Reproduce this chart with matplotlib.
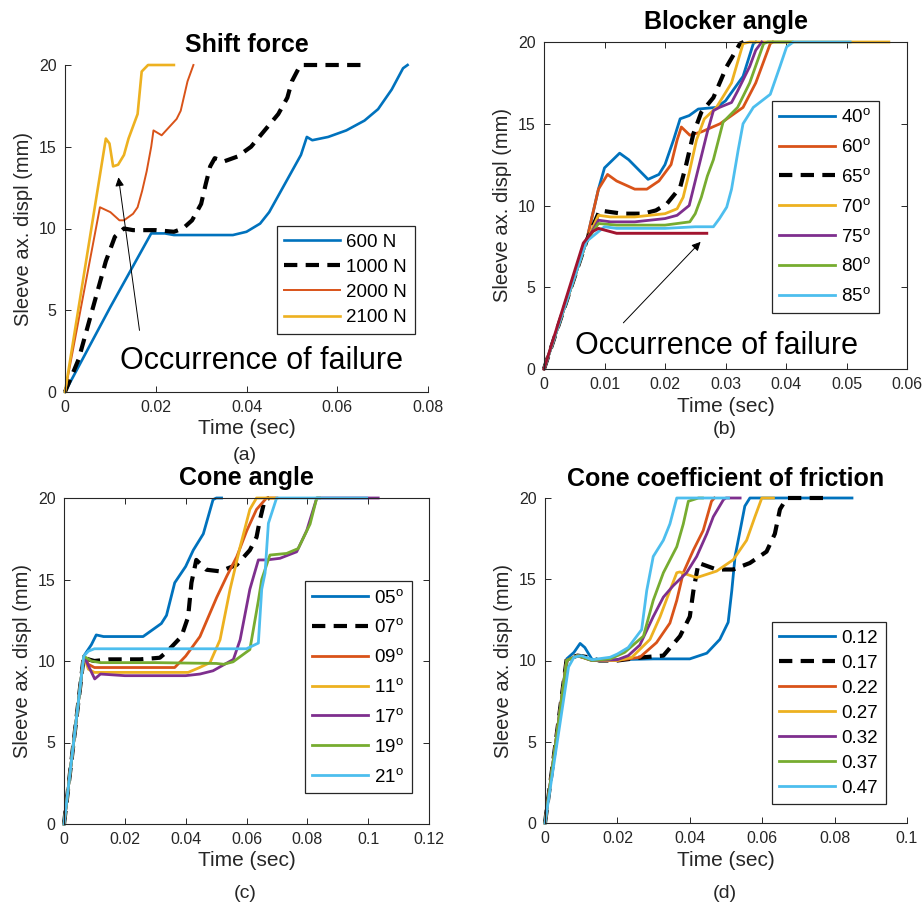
import matplotlib
matplotlib.use("Agg")
import matplotlib.pyplot as plt
import numpy as np

plt.rcParams['font.family'] = ['Liberation Sans', 'DejaVu Sans']
plt.rcParams['mathtext.default'] = 'regular'

# MATLAB default line colours
BLUE = '#0072BD'
ORANGE = '#D95319'
YELLOW = '#EDB120'
PURPLE = '#7E2F8E'
GREEN = '#77AC30'
CYAN = '#4DBEEE'
CRIMSON = '#A2142F'
GREY = '#262626'

######################
# (a) Shift force
######################
force_labels = ['600 N', '1000 N', '2000 N', '2100 N']
f600_t = [0, 0.005, 0.010, 0.015, 0.019, 0.022, 0.024, 0.030, 0.037, 0.040, 0.043, 0.045, 0.048,
          0.052, 0.0533, 0.0545, 0.058, 0.062, 0.066, 0.069, 0.072, 0.0745, 0.0755]
f600_y = [0, 2.6, 5.2, 7.7, 9.7, 9.7, 9.6, 9.6, 9.6, 9.8, 10.3, 11.0, 12.5,
          14.5, 15.6, 15.4, 15.6, 16.0, 16.6, 17.3, 18.5, 19.8, 20]
f1000_t = [0, 0.003, 0.006, 0.009, 0.011, 0.013, 0.015, 0.020, 0.024, 0.026, 0.028, 0.030, 0.031,
           0.032, 0.033, 0.035, 0.038, 0.041, 0.044, 0.047, 0.049, 0.050, 0.0515, 0.052, 0.066]
f1000_y = [0, 2.0, 5.0, 8.0, 9.5, 10.0, 9.9, 9.9, 9.8, 10.0, 10.5, 11.5, 12.7,
           13.8, 14.3, 14.1, 14.4, 15.0, 16.0, 17.0, 18.0, 19.0, 19.8, 20, 20]
f2000_t = [0, 0.0077, 0.010, 0.012, 0.013, 0.015, 0.016, 0.017, 0.018, 0.019, 0.0195, 0.0213,
           0.0246, 0.0255, 0.027, 0.0283]
f2000_y = [0, 11.3, 11.0, 10.5, 10.5, 10.9, 11.3, 12.3, 13.5, 15.0, 16.0, 15.7,
           16.7, 17.2, 19.0, 20]
f2100_t = [0, 0.009, 0.0098, 0.0106, 0.0117, 0.013, 0.014, 0.016, 0.0169, 0.0183, 0.024]
f2100_y = [0, 15.5, 15.2, 13.8, 13.9, 14.5, 15.5, 17.0, 19.6, 20, 20]

######################
# (b) Blocker angle
######################
blocker_labels = ['$40^o$', '$60^o$', '$65^o$', '$70^o$', '$75^o$', '$80^o$', '$85^o$']
b40_t = [0, 0.007, 0.009, 0.010, 0.0125, 0.014, 0.0172, 0.019, 0.020, 0.0214, 0.0225, 0.024,
         0.0255, 0.0285, 0.030, 0.0329, 0.0346, 0.035]
b40_y = [0, 7.8, 11.0, 12.3, 13.2, 12.8, 11.6, 11.9, 12.5, 14.0, 15.3, 15.5,
         15.9, 16.0, 16.4, 17.9, 19.9, 20]
b60_t = [0, 0.007, 0.009, 0.0105, 0.012, 0.015, 0.017, 0.019, 0.021, 0.022, 0.0227, 0.0241,
         0.026, 0.0291, 0.0329, 0.035, 0.0374, 0.0378]
b60_y = [0, 7.8, 11.0, 11.9, 11.5, 11.0, 11.0, 11.5, 12.5, 14.0, 14.8, 14.3,
         14.5, 15.0, 16.0, 17.5, 19.9, 20]
b65_t = [0, 0.007, 0.0092, 0.011, 0.013, 0.0164, 0.0185, 0.0203, 0.0225, 0.0235, 0.0247, 0.026,
         0.028, 0.0302, 0.0324, 0.033]
b65_y = [0, 7.8, 9.7, 9.6, 9.5, 9.5, 9.7, 10.1, 11.1, 12.5, 14.4, 15.7,
         16.6, 18.5, 19.9, 20]
b70_t = [0, 0.007, 0.009, 0.011, 0.015, 0.020, 0.022, 0.023, 0.024, 0.0252, 0.0265, 0.0285,
         0.031, 0.0329, 0.034, 0.057]
b70_y = [0, 7.8, 9.4, 9.3, 9.3, 9.5, 9.8, 10.5, 12.0, 14.0, 15.3, 16.0,
         17.5, 19.9, 20, 20]
b75_t = [0, 0.007, 0.009, 0.011, 0.015, 0.020, 0.022, 0.024, 0.025, 0.026, 0.027, 0.028,
         0.029, 0.031, 0.032, 0.034, 0.035, 0.036]
b75_y = [0, 7.8, 9.1, 9.0, 9.0, 9.2, 9.4, 10.0, 11.5, 13.0, 14.5, 15.8,
         16.0, 16.3, 17.0, 18.5, 19.5, 20]
b80_t = [0, 0.007, 0.009, 0.012, 0.020, 0.0241, 0.025, 0.026, 0.027, 0.028, 0.0296, 0.032,
         0.034, 0.0363, 0.037, 0.041]
b80_y = [0, 7.8, 8.9, 8.8, 8.8, 9.0, 9.5, 10.5, 11.8, 12.8, 15.1, 16.0,
         17.5, 19.9, 20, 20]
b85_t = [0, 0.007, 0.010, 0.012, 0.020, 0.025, 0.028, 0.029, 0.0302, 0.031, 0.0321, 0.0329,
         0.0346, 0.0374, 0.039, 0.0401, 0.0412, 0.0506]
b85_y = [0, 7.8, 8.7, 8.6, 8.6, 8.7, 8.7, 9.2, 9.9, 11.0, 13.4, 15.0,
         16.0, 16.8, 18.5, 19.7, 20, 20]
bfail_t = [0, 0.0065, 0.008, 0.009, 0.010, 0.012, 0.0269]
bfail_y = [0, 7.7, 8.4, 8.6, 8.5, 8.3, 8.3]

######################
# (c) Cone angle
######################
cone_labels = ['$05^o$', '$07^o$', '$09^o$', '$11^o$', '$17^o$', '$19^o$', '$21^o$']
c05_t = [0, 0.0065, 0.009, 0.0106, 0.013, 0.026, 0.029, 0.032, 0.0337, 0.0364, 0.040, 0.0425,
         0.0458, 0.049, 0.0501, 0.0518]
c05_y = [0, 10.3, 11.0, 11.6, 11.5, 11.5, 11.9, 12.3, 12.8, 14.8, 15.8, 16.8,
         17.8, 19.9, 20, 20]
c07_t = [0, 0.0065, 0.008, 0.010, 0.015, 0.025, 0.0315, 0.034, 0.0386, 0.0408, 0.0419, 0.0435,
         0.0468, 0.0513, 0.0568, 0.0611, 0.0633, 0.0644, 0.066, 0.0675]
c07_y = [0, 10.3, 10.1, 10.0, 10.1, 10.1, 10.2, 10.6, 11.5, 12.7, 14.8, 16.2,
         15.6, 15.5, 15.9, 16.8, 17.6, 18.65, 19.9, 20]
c09_t = [0, 0.0065, 0.008, 0.010, 0.015, 0.030, 0.0364, 0.040, 0.0447, 0.0502, 0.0535, 0.0568,
         0.0601, 0.0633, 0.0666, 0.070]
c09_y = [0, 10.3, 9.8, 9.6, 9.6, 9.6, 9.6, 10.3, 11.5, 13.9, 15.2, 16.4,
         18.0, 19.3, 20, 20]
c11_t = [0, 0.0065, 0.008, 0.010, 0.015, 0.0408, 0.0446, 0.048, 0.0513, 0.0546, 0.0579, 0.0611,
         0.0633, 0.0693]
c11_y = [0, 10.3, 9.5, 9.3, 9.3, 9.3, 9.6, 9.9, 11.3, 14.4, 17.0, 19.3,
         20, 20]
c17_t = [0, 0.0065, 0.0101, 0.012, 0.020, 0.040, 0.0447, 0.049, 0.0557, 0.0579, 0.0611, 0.0639,
         0.0666, 0.071, 0.0765, 0.0798, 0.0831, 0.1033]
c17_y = [0, 10.3, 8.9, 9.2, 9.1, 9.1, 9.2, 9.4, 10.1, 11.3, 14.4, 16.2,
         16.2, 16.3, 16.7, 18.0, 20, 20]
c19_t = [0, 0.0065, 0.009, 0.012, 0.030, 0.0501, 0.0525, 0.0556, 0.0611, 0.0639, 0.065, 0.0677,
         0.0732, 0.077, 0.0809, 0.0831, 0.084]
c19_y = [0, 10.3, 10.0, 9.9, 9.9, 9.85, 9.8, 9.95, 10.7, 13.7, 15.0, 16.5,
         16.6, 16.9, 18.4, 20, 20]
c21_t = [0, 0.0065, 0.008, 0.010, 0.020, 0.060, 0.0639, 0.065, 0.0661, 0.0672, 0.0699, 0.0995]
c21_y = [0, 10.3, 10.6, 10.75, 10.75, 10.75, 11.1, 14.4, 15.4, 18.45, 20, 20]

######################
# (d) Cone friction
######################
mu_labels = ['0.12', '0.17', '0.22', '0.27', '0.32', '0.37', '0.47']
m12_t = [0, 0.006, 0.008, 0.0097, 0.011, 0.0129, 0.014, 0.020, 0.030, 0.040, 0.0447, 0.0483,
         0.0506, 0.0516, 0.0525, 0.0539, 0.0552, 0.0566, 0.0848]
m12_y = [0, 10.1, 10.5, 11.05, 10.8, 10.1, 10.0, 10.05, 10.1, 10.1, 10.45, 11.3,
         12.35, 14.3, 16.4, 18.0, 19.5, 20, 20]
m17_t = [0, 0.006, 0.009, 0.012, 0.015, 0.020, 0.0272, 0.0327, 0.0373, 0.040, 0.041, 0.0424,
         0.0437, 0.0474, 0.052, 0.0566, 0.0612, 0.0635, 0.0649, 0.0668, 0.0788]
m17_y = [0, 10.1, 10.3, 10.2, 10.0, 10.0, 10.2, 10.3, 11.5, 12.7, 14.3, 16.0,
         15.9, 15.6, 15.6, 16.0, 16.7, 17.8, 19.3, 20, 20]
m22_t = [0, 0.006, 0.009, 0.013, 0.020, 0.0262, 0.0308, 0.0345, 0.0364, 0.0382, 0.041, 0.0437,
         0.046, 0.0468]
m22_y = [0, 10.0, 10.3, 10.0, 10.0, 10.2, 11.1, 12.3, 13.7, 15.4, 16.8, 18.0,
         19.8, 20]
m27_t = [0, 0.006, 0.009, 0.013, 0.020, 0.024, 0.029, 0.0318, 0.0345, 0.0364, 0.0372, 0.0419,
         0.0474, 0.052, 0.0557, 0.058, 0.0599, 0.0631]
m27_y = [0, 10.0, 10.3, 10.0, 10.0, 10.2, 11.3, 12.7, 14.3, 15.4, 15.45, 15.1,
         15.5, 16.2, 17.4, 18.85, 20, 20]
m32_t = [0, 0.006, 0.009, 0.013, 0.020, 0.023, 0.0262, 0.0299, 0.0327, 0.0354, 0.0391, 0.0419,
         0.0447, 0.0465, 0.0493, 0.050, 0.0539]
m32_y = [0, 10.0, 10.3, 10.0, 10.05, 10.3, 10.95, 12.7, 13.9, 14.6, 15.4, 16.4,
         17.8, 18.85, 19.9, 20, 20]
m37_t = [0, 0.006, 0.009, 0.013, 0.018, 0.022, 0.0272, 0.0299, 0.0327, 0.0364, 0.0382, 0.0396,
         0.0424, 0.0435]
m37_y = [0, 10.0, 10.3, 10.0, 10.1, 10.5, 11.5, 13.7, 15.4, 17.0, 18.4, 19.8,
         20, 20]
m47_t = [0, 0.0065, 0.008, 0.010, 0.013, 0.018, 0.020, 0.023, 0.0267, 0.0281, 0.0299, 0.0327,
         0.0345, 0.0364, 0.0507]
m47_y = [0, 9.6, 10.2, 10.3, 10.05, 10.2, 10.4, 10.8, 11.9, 14.3, 16.4, 17.4,
         18.4, 20, 20]


W, H = 923, 908


def make_axes(fig, left, right, top, bottom, xmax, xstep, box):
    ax = fig.add_axes([left / W, 1 - bottom / H, (right - left) / W, (bottom - top) / H])
    ax.set_xlim(0, xmax)
    ax.set_ylim(0, 20)
    ax.set_xticks(np.round(np.arange(0, xmax + xstep / 2, xstep), 3))
    ax.set_yticks([0, 5, 10, 15, 20])
    ax.xaxis.set_major_formatter(matplotlib.ticker.FormatStrFormatter('%g'))
    ax.yaxis.set_major_formatter(matplotlib.ticker.FormatStrFormatter('%g'))
    ax.tick_params(direction='in', length=4, width=0.7, colors=GREY, labelsize=11.5,
                   top=box, right=box, pad=6)
    for side in ['top', 'right']:
        ax.spines[side].set_visible(box)
    for sp in ax.spines.values():
        sp.set_color(GREY)
        sp.set_linewidth(0.8)
    ax.set_xlabel('Time (sec)', fontsize=15, color=GREY, labelpad=3)
    ax.set_ylabel('Sleeve ax. displ (mm)', fontsize=14.5, color=GREY, labelpad=4)
    return ax


def add_legend(ax, handles, labels, x, y, spacing):
    leg = ax.legend(handles, labels, loc='upper left', bbox_to_anchor=(x, y), borderaxespad=0,
                    fontsize=13.5, handlelength=2.95, handletextpad=0.35, labelspacing=spacing,
                    borderpad=0.4, fancybox=False, framealpha=1, edgecolor=GREY)
    leg.get_frame().set_linewidth(0.9)
    return leg


dash = (0, (3.2, 2.0))
LW = 2.0
fig = plt.figure(figsize=(W / 100, H / 100), dpi=100)

# (a)
ax = make_axes(fig, 65, 428, 65, 392, 0.08, 0.02, False)
h = []
h += ax.plot(f600_t, f600_y, color=BLUE, lw=1.9, clip_on=False)
h += ax.plot(f1000_t, f1000_y, color='k', lw=3.0, ls=dash, clip_on=False)
h += ax.plot(f2000_t, f2000_y, color=ORANGE, lw=1.4, clip_on=False)
h += ax.plot(f2100_t, f2100_y, color=YELLOW, lw=1.9, clip_on=False)
add_legend(ax, h, force_labels, 0.584, 0.508, 0.43)
ax.annotate('', xy=(0.0117, 13.3), xytext=(0.0165, 3.6),
            arrowprops=dict(arrowstyle='-|>', lw=0.7, color='k', mutation_scale=13))
ax.text(0.0121, 1.9, 'Occurrence of failure', fontsize=22, va='center', ha='left')
ax.set_title('Shift force', fontsize=18, fontweight='bold', pad=9)

# (b)
ax = make_axes(fig, 544, 907, 42, 369, 0.06, 0.01, True)
h = []
h += ax.plot(b40_t, b40_y, color=BLUE, lw=LW, clip_on=False)
h += ax.plot(b60_t, b60_y, color=ORANGE, lw=LW, clip_on=False)
h += ax.plot(b65_t, b65_y, color='k', lw=3.0, ls=dash, clip_on=False)
h += ax.plot(b70_t, b70_y, color=YELLOW, lw=LW, clip_on=False)
h += ax.plot(b75_t, b75_y, color=PURPLE, lw=LW, clip_on=False)
h += ax.plot(b80_t, b80_y, color=GREEN, lw=LW, clip_on=False)
h += ax.plot(b85_t, b85_y, color=CYAN, lw=LW, clip_on=False)
ax.plot(bfail_t, bfail_y, color=CRIMSON, lw=2.1, clip_on=False)
add_legend(ax, h, blocker_labels, 0.628, 0.82, 0.63)
ax.annotate('', xy=(0.0262, 7.9), xytext=(0.0128, 2.7),
            arrowprops=dict(arrowstyle='-|>', lw=0.7, color='k', mutation_scale=13))
ax.text(0.0051, 1.4, 'Occurrence of failure', fontsize=22, va='center', ha='left')
ax.set_title('Blocker angle', fontsize=18, fontweight='bold', pad=9)

# (c)
ax = make_axes(fig, 64, 429, 498, 824, 0.12, 0.02, True)
h = []
h += ax.plot(c05_t, c05_y, color=BLUE, lw=LW, clip_on=False)
h += ax.plot(c07_t, c07_y, color='k', lw=3.0, ls=dash, clip_on=False)
h += ax.plot(c09_t, c09_y, color=ORANGE, lw=LW, clip_on=False)
h += ax.plot(c11_t, c11_y, color=YELLOW, lw=LW, clip_on=False)
h += ax.plot(c17_t, c17_y, color=PURPLE, lw=LW, clip_on=False)
h += ax.plot(c19_t, c19_y, color=GREEN, lw=LW, clip_on=False)
h += ax.plot(c21_t, c21_y, color=CYAN, lw=LW, clip_on=False)
add_legend(ax, h, cone_labels, 0.66, 0.745, 0.63)
ax.set_title('Cone angle', fontsize=18, fontweight='bold', pad=9)

# (d)
ax = make_axes(fig, 545, 907, 498, 823, 0.1, 0.02, False)
h = []
h += ax.plot(m12_t, m12_y, color=BLUE, lw=LW, clip_on=False)
h += ax.plot(m17_t, m17_y, color='k', lw=3.0, ls=dash, clip_on=False)
h += ax.plot(m22_t, m22_y, color=ORANGE, lw=LW, clip_on=False)
h += ax.plot(m27_t, m27_y, color=YELLOW, lw=LW, clip_on=False)
h += ax.plot(m32_t, m32_y, color=PURPLE, lw=LW, clip_on=False)
h += ax.plot(m37_t, m37_y, color=GREEN, lw=LW, clip_on=False)
h += ax.plot(m47_t, m47_y, color=CYAN, lw=LW, clip_on=False)
add_legend(ax, h, mu_labels, 0.627, 0.618, 0.42)
ax.set_title('Cone coefficient of friction', fontsize=18, fontweight='bold', pad=9)

# sub-figure letters
for s, x, y in [('(a)', 245, 456), ('(b)', 725, 430), ('(c)', 245, 893), ('(d)', 725, 893)]:
    fig.text(x / W, 1 - y / H, s, fontsize=14, color=GREY, ha='center', va='center')

fig.savefig('out.png', dpi=100)
